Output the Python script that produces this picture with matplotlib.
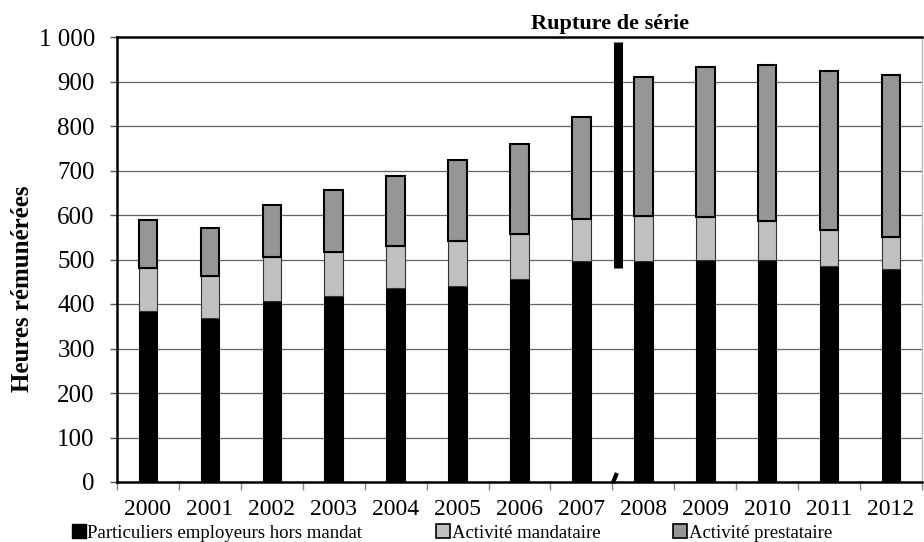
import matplotlib
matplotlib.use("Agg")
import matplotlib.pyplot as plt
from matplotlib.patches import Patch
from matplotlib.ticker import FuncFormatter
import numpy as np

# heures rémunérées, par type d'activité
years = ["2000", "2001", "2002", "2003", "2004", "2005", "2006",
         "2007", "2008", "2009", "2010", "2011", "2012"]
particuliers = [384, 368, 407, 419, 437, 441, 456, 497, 497, 499, 500, 486, 479]
mandataire = [98, 96, 98, 97, 94, 101, 101, 94, 101, 96, 87, 80, 72]
prestataire = [106, 107, 117, 140, 157, 181, 203, 229, 312, 338, 350, 358, 364]
labels = ["Particuliers employeurs hors mandat", "Activité mandataire",
          "Activité prestataire"]
rupture_pos = 7.59  # entre 2007 et 2008

plt.rcParams["font.family"] = ["Liberation Serif", "DejaVu Serif"]

fig = plt.figure(figsize=(9.24, 5.42), dpi=100)
ax = fig.add_axes([117 / 924, 60 / 542, 805 / 924, 445 / 542])

x = np.arange(len(years))
w = 0.3
b1 = np.array(particuliers)
b2 = b1 + np.array(mandataire)

ax.bar(x, particuliers, w, color="black", edgecolor="black", lw=0.8, zorder=3)
ax.bar(x, mandataire, w, bottom=b1, color="#c0c0c0", edgecolor="#333333",
       lw=0.8, zorder=3)
ax.bar(x, prestataire, w, bottom=b2, color="#969696", edgecolor="black",
       lw=1.5, zorder=3)

# rupture de série
ax.plot([rupture_pos, rupture_pos], [482, 988], color="black", lw=6.5,
        solid_capstyle="butt", zorder=4, clip_on=False)
ax.plot([rupture_pos - 0.07, rupture_pos - 0.03], [2, 16], color="black",
        lw=3, zorder=4, clip_on=False)
fig.text(610 / 924, 1 - 24 / 542, "Rupture de série", ha="center",
         va="center", fontsize=16, fontweight="bold")

ax.set_xlim(-0.5, 12.5)
ax.set_ylim(0, 1000)
ax.set_yticks(range(0, 1001, 100))
ax.yaxis.set_major_formatter(FuncFormatter(lambda v, p: f"{int(v):,}".replace(",", " ")))
ax.tick_params(axis="y", labelsize=18, length=5, width=1, color="#555555", pad=11)
ax.yaxis.grid(True, color="#666666", lw=0.9, zorder=0)
ax.set_axisbelow(True)

# ticks aux bornes, libellés au centre
ax.set_xticks(np.arange(-0.5, 13, 1))
ax.set_xticklabels([])
ax.set_xticks(x, minor=True)
ax.set_xticklabels(years, minor=True)
ax.tick_params(axis="x", which="major", length=6, width=1, color="#888888")
ax.tick_params(axis="x", which="minor", length=0, labelsize=17, pad=12)

for s in ["left", "bottom", "top"]:
    ax.spines[s].set_linewidth(1.8)
    ax.spines[s].set_color("black")
ax.spines["right"].set_color("#bbbbbb")
ax.spines["right"].set_linewidth(1)

fig.text(23 / 924, 1 - 289 / 542, "Heures rémunérées", rotation=90,
         ha="center", va="center", fontsize=18, fontweight="bold")

handles = [Patch(facecolor="black", edgecolor="black"),
           Patch(facecolor="#c0c0c0", edgecolor="black", lw=1.2),
           Patch(facecolor="#969696", edgecolor="black", lw=1.2)]
fig.legend(handles, labels, loc="center", bbox_to_anchor=(452 / 924, 1 - 533 / 542),
           ncol=3, frameon=False, fontsize=13.5, handlelength=0.75,
           handleheight=0.75, handletextpad=0.1, columnspacing=3.9,
           borderpad=0)

plt.savefig("out.png", dpi=100)
plt.close()
